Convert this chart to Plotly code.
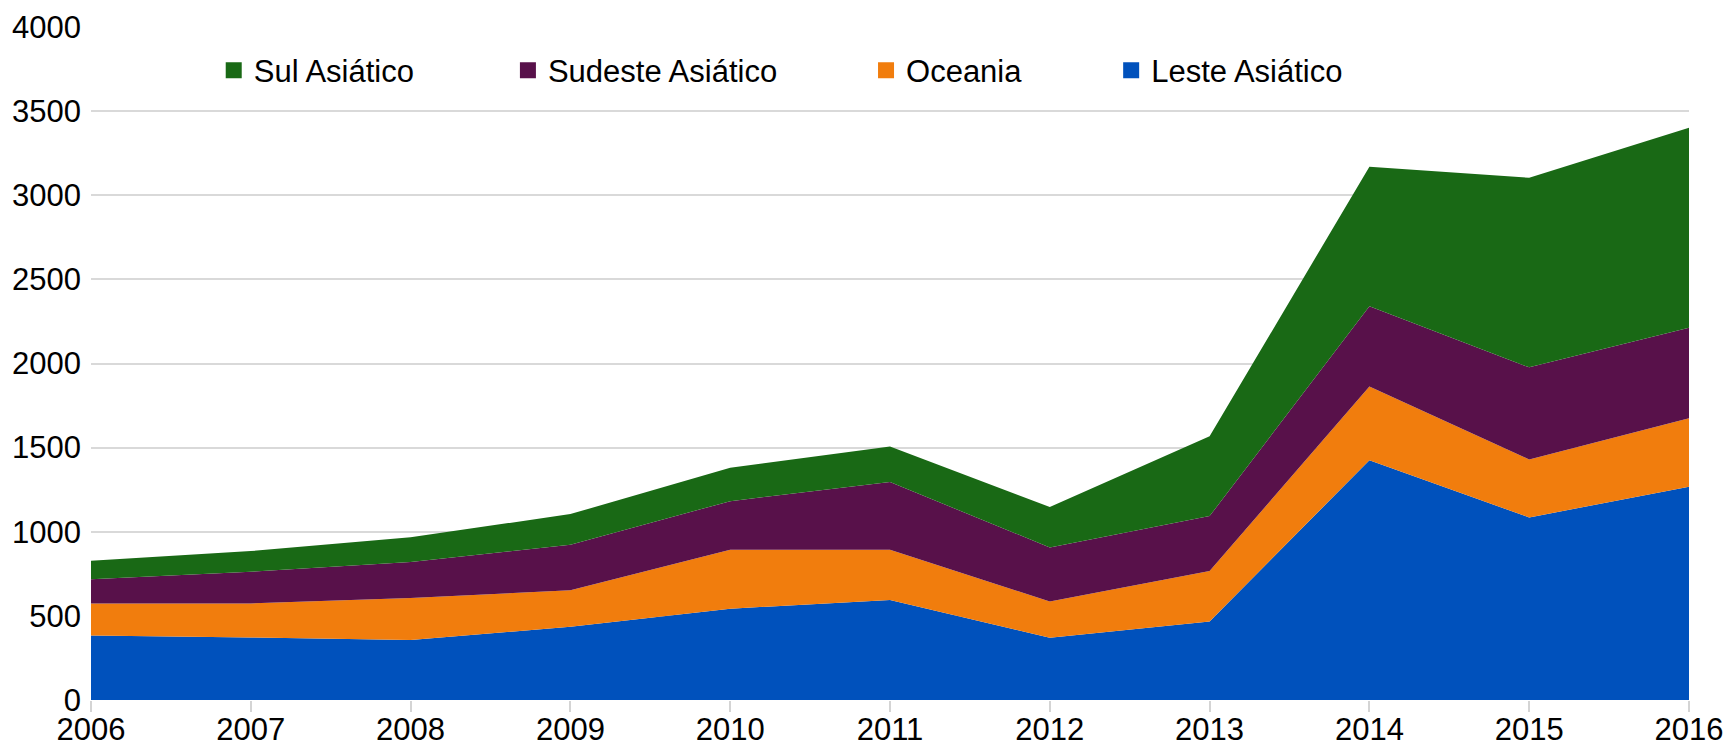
import plotly.graph_objects as go

years = [2006, 2007, 2008, 2009, 2010, 2011, 2012, 2013, 2014, 2015, 2016]
leste = [384, 372, 356, 436, 543, 594, 370, 467, 1425, 1085, 1268]
oceania = [190, 202, 250, 216, 350, 299, 216, 299, 439, 345, 406]
sudeste = [143, 188, 214, 271, 289, 402, 321, 327, 476, 547, 538]
sul = [111, 123, 147, 182, 198, 212, 240, 474, 830, 1127, 1189]

series = [
    ("Leste Asiático", leste, "#0051BC"),
    ("Oceania", oceania, "#F17D0D"),
    ("Sudeste Asiático", sudeste, "#58114A"),
    ("Sul Asiático", sul, "#196915"),
]
y_ticks = [0, 500, 1000, 1500, 2000, 2500, 3000, 3500, 4000]

FONT = "Liberation Sans, Arial, sans-serif"
fig = go.Figure()
for name, vals, color in series:
    fig.add_trace(go.Scatter(
        x=years, y=vals, name=name, stackgroup="one", mode="none",
        fillcolor=color, line=dict(width=0), showlegend=False,
    ))

# legend-only entries with square markers, each in its own legend
legend_x = {"Sul Asiático": 0.0768, "Sudeste Asiático": 0.2609,
            "Oceania": 0.4850, "Leste Asiático": 0.6384}
legend_ids = {"Sul Asiático": "legend", "Sudeste Asiático": "legend2",
              "Oceania": "legend3", "Leste Asiático": "legend4"}
for name, vals, color in series:
    fig.add_trace(go.Scatter(
        x=[None], y=[None], mode="markers", name=name,
        marker=dict(symbol="square", size=18, color=color),
        legend=legend_ids[name], showlegend=True,
    ))

leg_common = dict(orientation="h", xanchor="left", yanchor="middle", y=0.9354,
                  bgcolor="rgba(0,0,0,0)", borderwidth=0,
                  font=dict(family=FONT, size=31, color="#000000"))
layout_legends = {}
for name in legend_x:
    layout_legends[legend_ids[name]] = dict(x=legend_x[name], **leg_common)

fig.update_layout(
    width=1728, height=748,
    margin=dict(l=91, r=39, t=27, b=48, pad=0),
    paper_bgcolor="white", plot_bgcolor="white",
    font=dict(family=FONT, size=31, color="#000000"),
    xaxis=dict(range=[2006, 2016], tickmode="array", tickvals=years,
               ticktext=[str(y) for y in years],
               ticks="outside", ticklen=11, tickwidth=1.5, tickcolor="#d4d4d4",
               showgrid=False, zeroline=False, showline=False,
               automargin=False, ticklabelstandoff=-9,
               tickfont=dict(family=FONT, size=31, color="#000000")),
    yaxis=dict(range=[0, 4000], tickmode="array", tickvals=y_ticks,
               ticktext=[str(v) for v in y_ticks],
               showgrid=True, gridcolor="#d9d9d9", gridwidth=1.5,
               zeroline=False, showline=False, ticks="",
               automargin=False, ticklabelstandoff=9,
               tickfont=dict(family=FONT, size=31, color="#000000")),
    **layout_legends,
)

fig.write_html(
    "out.html",
    config={"displayModeBar": False},
    post_script="document.body.style.margin='0';document.body.style.overflow='hidden';",
)
